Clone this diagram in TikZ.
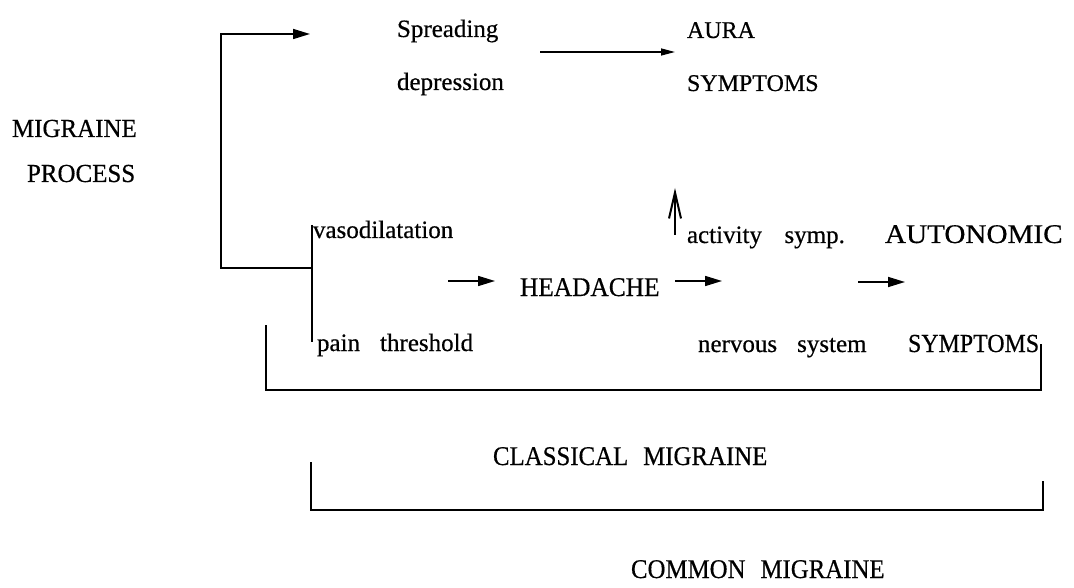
\documentclass[tikz,border=0pt]{standalone}
\usepackage{fontspec}
\setmainfont{Liberation Serif}[FakeBold=0.5,AutoFakeBold=0.5]
\usetikzlibrary{arrows.meta}
\newcommand{\fsz}[1]{\fontsize{#1}{#1}\selectfont}
\newcommand{\gap}[1]{\hspace{#1em}}
\begin{document}
\begin{tikzpicture}[x=1pt,y=-1pt,
  lbl/.style={anchor=base west,inner sep=0pt,outer sep=0pt},
  small/.style={lbl,font=\fsz{25}},
  caps/.style={lbl,font=\fsz{26}},
  big/.style={lbl,font=\fsz{27}},
  wire/.style={line width=1.6pt},
  flow/.style={line width=1.6pt,-{Triangle[length=17pt,width=10pt]}},
  thin flow/.style={line width=1.4pt,-{Triangle[length=14pt,width=7pt]}},
  up flow/.style={line width=1.3pt,-{Straight Barb[length=26pt,width=12pt,line width=2pt]}}]
\useasboundingbox (0,0) rectangle (1074,588);

% labels
\node[caps] (mig) at (12,137) {\scalebox{0.96}[1]{MIGRAINE}};
\node[caps] (proc) at (27,182) {\scalebox{0.96}[1]{PROCESS}};
\node[small] (spread) at (397,37) {Spreading};
\node[small] (depr) at (397,90) {depression};
\node[lbl,font=\fsz{24}] (aura) at (687,38) {AURA};
\node[lbl,font=\fsz{24}] (symA) at (687,91) {SYMPTOMS};
\node[small] (vaso) at (313,238) {vasodilatation};
\node[big] (head) at (520,296) {\scalebox{0.94}[1]{HEADACHE}};
\node[small] (act) at (687,243) {activity\gap{0.9}symp.};
\node[big] (auto) at (885,243) {\scalebox{1.08}[1]{AUTONOMIC}};
\node[small] (pain) at (317,351) {pain\gap{0.8}threshold};
\node[small] (nerv) at (698,352) {nervous\gap{0.8}system};
\node[lbl,font=\fsz{26}] (symB) at (908,352) {\scalebox{0.92}[1]{SYMPTOMS}};
\node[big] (clas) at (493,465) {\scalebox{0.92}[1]{CLASSICAL\gap{0.6}MIGRAINE}};
\node[big] (comm) at (631,578) {\scalebox{0.92}[1]{COMMON\gap{0.6}MIGRAINE}};

% free ends of the connectors
\coordinate (fork) at (312,268);
\coordinate (corner) at (221,268);
\coordinate (topTip) at (310,34);
\coordinate (forkTop) at (312,225);
\coordinate (forkBot) at (312,342);
\coordinate (sdA) at (540,52);
\coordinate (sdB) at (675,52);
\coordinate (hA) at (448,281);
\coordinate (hB) at (495,281);
\coordinate (hC) at (675,281);
\coordinate (hD) at (722,281);
\coordinate (aA) at (858,282);
\coordinate (aB) at (905,282);
\coordinate (upA) at (675,235);
\coordinate (upB) at (675,188);
\coordinate (c1) at (266,325);
\coordinate (c2) at (266,390);
\coordinate (c3) at (1041,390);
\coordinate (c4) at (1041,344);
\coordinate (m1) at (311,462);
\coordinate (m2) at (311,510);
\coordinate (m3) at (1043,510);
\coordinate (m4) at (1043,481);

% migraine process fork
\draw[wire] (forkTop) -- (forkBot);
\draw[flow] (fork) -- (corner) |- (topTip);

% causal arrows
\draw[thin flow] (sdA) -- (sdB);
\draw[flow] (hA) -- (hB);
\draw[flow] (hC) -- (hD);
\draw[flow] (aA) -- (aB);
\draw[up flow] (upA) -- (upB);

% brackets
\draw[wire] (c1) -- (c2) -- (c3) -- (c4);
\draw[wire] (m1) -- (m2) -- (m3) -- (m4);
\end{tikzpicture}
\end{document}
